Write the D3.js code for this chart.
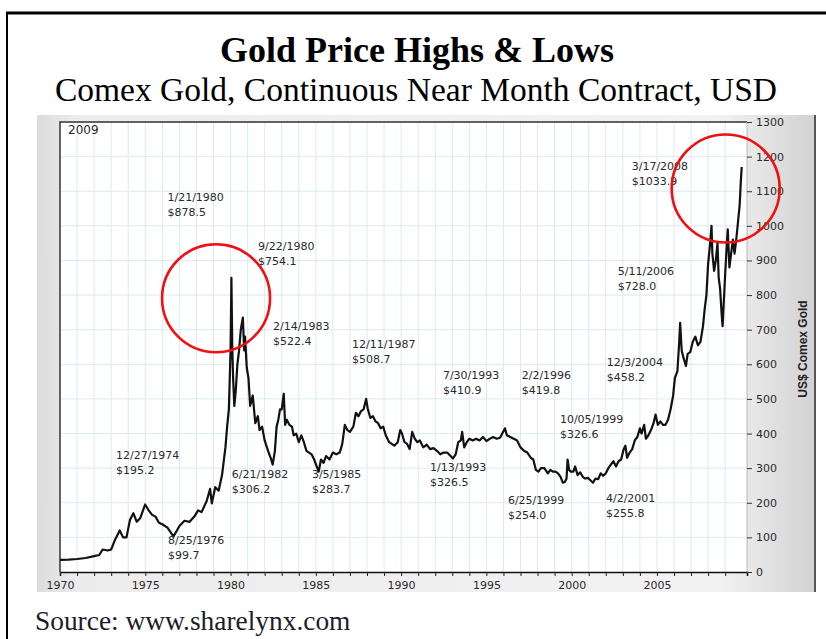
<!DOCTYPE html>
<html>
<head>
<meta charset="utf-8">
<script src="https://cdn.jsdelivr.net/npm/d3@7"></script>
<style>
  html, body { margin: 0; padding: 0; background: #fff; }
  svg { display: block; }
  .px { font-family: "DejaVu Sans", sans-serif; font-size: 11px; fill: #2a2a2a; }
</style>
</head>
<body>
<div id="chart"></div>
<script>
// Comex gold, continuous near month (decimal year, USD)
const years = [
  1970.0, 1970.5, 1971.0, 1971.5, 1972.0, 1972.3, 1972.5, 1972.8, 1973.0, 1973.2,
  1973.5, 1973.7, 1973.9, 1974.1, 1974.3, 1974.5, 1974.7, 1974.99, 1975.2, 1975.4,
  1975.6, 1975.8, 1976.0, 1976.3, 1976.65, 1976.8, 1977.0, 1977.3, 1977.6, 1977.9,
  1978.1, 1978.3, 1978.6, 1978.8, 1978.9, 1979.1, 1979.3, 1979.5, 1979.7, 1979.8,
  1979.9, 1980.0, 1980.05, 1980.1, 1980.15, 1980.22, 1980.3, 1980.4, 1980.5, 1980.6,
  1980.72, 1980.8, 1980.85, 1980.95, 1981.05, 1981.15, 1981.3, 1981.45, 1981.6, 1981.7,
  1981.85, 1982.0, 1982.2, 1982.35, 1982.47, 1982.6, 1982.7, 1982.8, 1982.9, 1983.0,
  1983.12, 1983.2, 1983.3, 1983.45, 1983.6, 1983.7, 1983.85, 1984.0, 1984.15, 1984.3,
  1984.45, 1984.6, 1984.75, 1984.9, 1985.05, 1985.17, 1985.3, 1985.45, 1985.6, 1985.8,
  1986.0, 1986.2, 1986.4, 1986.55, 1986.7, 1986.85, 1987.0, 1987.2, 1987.35, 1987.5,
  1987.65, 1987.8, 1987.95, 1988.05, 1988.2, 1988.35, 1988.5, 1988.65, 1988.8, 1988.95,
  1989.1, 1989.3, 1989.45, 1989.6, 1989.8, 1989.95, 1990.05, 1990.2, 1990.35, 1990.5,
  1990.65, 1990.8, 1990.95, 1991.1, 1991.3, 1991.5, 1991.7, 1991.9, 1992.1, 1992.3,
  1992.5, 1992.7, 1992.9, 1993.04, 1993.2, 1993.35, 1993.5, 1993.58, 1993.7, 1993.85,
  1994.0, 1994.2, 1994.4, 1994.6, 1994.8, 1995.0, 1995.2, 1995.4, 1995.6, 1995.8,
  1996.09, 1996.2, 1996.4, 1996.6, 1996.8, 1997.0, 1997.2, 1997.4, 1997.6, 1997.75,
  1997.9, 1998.05, 1998.2, 1998.4, 1998.6, 1998.75, 1998.9, 1999.05, 1999.2, 1999.35,
  1999.48, 1999.6, 1999.7, 1999.76, 1999.85, 1999.95, 2000.1, 2000.2, 2000.35, 2000.5,
  2000.65, 2000.8, 2000.95, 2001.1, 2001.25, 2001.4, 2001.55, 2001.7, 2001.85, 2002.0,
  2002.15, 2002.3, 2002.45, 2002.6, 2002.75, 2002.9, 2003.05, 2003.15, 2003.25, 2003.4,
  2003.55, 2003.7, 2003.85, 2004.0, 2004.1, 2004.25, 2004.35, 2004.5, 2004.65, 2004.8,
  2004.92, 2005.05, 2005.2, 2005.35, 2005.5, 2005.65, 2005.8, 2005.95, 2006.05, 2006.2,
  2006.3, 2006.36, 2006.45, 2006.55, 2006.7, 2006.8, 2006.95, 2007.1, 2007.25, 2007.4,
  2007.55, 2007.7, 2007.8, 2007.9, 2008.0, 2008.1, 2008.2, 2008.25, 2008.35, 2008.45,
  2008.55, 2008.62, 2008.7, 2008.8, 2008.85, 2008.92, 2009.0, 2009.1, 2009.15, 2009.25,
  2009.35, 2009.45, 2009.55, 2009.65, 2009.75, 2009.85, 2009.92, 2009.97
];
const prices = [
  35, 35.5, 37.5, 40.5, 46, 49, 65, 62, 65, 90,
  120, 100, 100, 150, 170, 145, 155, 195, 178, 165,
  160, 142, 138, 128, 103, 115, 133, 148, 145, 162,
  178, 173, 205, 240, 198, 245, 235, 280, 360, 420,
  470, 640, 850, 650, 560, 480, 520, 600, 640, 700,
  735, 640, 680, 590, 560, 480, 510, 430, 450, 410,
  420, 380, 350, 330, 310, 350, 420, 440, 470, 470,
  515, 425, 440, 425, 420, 395, 400, 375, 395, 375,
  350, 345, 340, 325, 305, 290, 325, 315, 335, 325,
  345, 340, 345, 370, 425, 410, 405, 420, 460, 450,
  465, 470, 500, 470, 445, 450, 435, 430, 415, 420,
  395, 375, 370, 365, 375, 410, 400, 375, 370, 355,
  405, 385, 375, 380, 360, 368, 355, 358, 350, 340,
  345, 345, 335, 328, 340, 375, 380, 405, 360, 375,
  385, 380, 385, 380, 390, 378, 385, 390, 385, 388,
  415, 395, 390, 385, 380, 360, 350, 345, 330, 325,
  295, 290, 300, 300, 285, 295, 290, 290, 285, 275,
  258, 260, 270, 325, 295, 290, 290, 305, 280, 288,
  275, 270, 272, 265, 258, 270, 268, 285, 278, 285,
  300, 310, 320, 305, 320, 325, 355, 365, 330, 345,
  355, 380, 390, 415, 400, 425, 385, 395, 410, 430,
  455, 425, 435, 425, 425, 440, 470, 510, 560, 580,
  660, 720, 640, 620, 595, 630, 635, 665, 680, 655,
  665, 710, 760, 800, 890, 940, 1000, 920, 870, 900,
  950, 850, 820, 740, 710, 780, 860, 950, 990, 880,
  920, 960, 920, 960, 1010, 1060, 1130, 1170
];

// axis ticks
const yearTicks = d3.range(1970, 2010);
const yearLabels = [1970, 1975, 1980, 1985, 1990, 1995, 2000, 2005];
const priceTicks = d3.range(0, 1400, 100);

// highs & lows callouts: text, and where each label sits (year, price units)
const noteDates = ['1/21/1980', '9/22/1980', '2/14/1983', '12/11/1987', '12/27/1974', '6/21/1982',
  '3/5/1985', '8/25/1976', '7/30/1993', '2/2/1996', '1/13/1993', '6/25/1999', '10/05/1999',
  '12/3/2004', '4/2/2001', '5/11/2006', '3/17/2008'];
const notePrices = ['$878.5', '$754.1', '$522.4', '$508.7', '$195.2', '$306.2',
  '$283.7', '$99.7', '$410.9', '$419.8', '$326.5', '$254.0', '$326.6',
  '$458.2', '$255.8', '$728.0', '$1033.9'];
const noteYear = [1976.30, 1981.61, 1982.49, 1987.12, 1973.28, 1980.07,
  1984.77, 1976.33, 1992.45, 1997.07, 1991.69, 1996.26, 1999.31,
  2002.05, 2002.01, 2002.70, 2003.52];
const noteLevel = [1083, 940, 711, 659, 338, 283,
  283, 92, 569, 569, 304, 208, 442,
  605, 214, 868, 1173];

// red circles around the two tops
const ringYear = [1979.15, 2009.03];
const ringLevel = [791, 1108];

function drawChart() {
    const W = 826, H = 639;
    const plot = {left: 60, right: 747, top: 122, bottom: 572};

    const svg = d3.select('#chart')
        .append('svg')
        .attr('width', W)
        .attr('height', H);

    const defs = svg.append('defs');
    const grad = defs.append('linearGradient')
        .attr('id', 'panel')
        .attr('x1', '0').attr('x2', '1').attr('y1', '0').attr('y2', '0');
    grad.append('stop').attr('offset', '0').attr('stop-color', '#dcdcdc');
    grad.append('stop').attr('offset', '0.05').attr('stop-color', '#ececec');
    grad.append('stop').attr('offset', '0.88').attr('stop-color', '#f2f2f2');
    grad.append('stop').attr('offset', '1').attr('stop-color', '#d2d2d2');

    // outer frame
    svg.append('line')
        .attr('x1', 6).attr('x2', W).attr('y1', 13).attr('y2', 13)
        .attr('stroke', '#000').attr('stroke-width', 3);
    svg.append('line')
        .attr('x1', 7).attr('x2', 7).attr('y1', 12).attr('y2', H)
        .attr('stroke', '#000').attr('stroke-width', 2);

    // titles
    svg.append('text')
        .attr('x', 417).attr('y', 62)
        .attr('text-anchor', 'middle')
        .style('font-family', '"Liberation Serif", serif')
        .style('font-weight', 'bold')
        .style('font-size', '36px')
        .text('Gold Price Highs & Lows');

    svg.append('text')
        .attr('x', 416).attr('y', 101)
        .attr('text-anchor', 'middle')
        .style('font-family', '"Liberation Serif", serif')
        .style('font-size', '33.5px')
        .text('Comex Gold, Continuous Near Month Contract, USD');

    svg.append('text')
        .attr('x', 35).attr('y', 630)
        .style('font-family', '"Liberation Serif", serif')
        .style('font-size', '27.4px')
        .style('fill', '#1c1c2c')
        .text('Source: www.sharelynx.com');

    // grey chart panel
    svg.append('rect')
        .attr('x', 37).attr('y', 115)
        .attr('width', 778).attr('height', 477)
        .attr('fill', 'url(#panel)');
    svg.append('line')
        .attr('x1', 815).attr('x2', 815).attr('y1', 115).attr('y2', 592)
        .attr('stroke', '#555').attr('stroke-width', 2);

    const x = d3.scaleLinear()
        .domain([1970, 2010.28])
        .range([plot.left, plot.right]);

    const y = d3.scaleLinear()
        .domain([0, 1300])
        .range([plot.bottom, plot.top]);

    svg.append('rect')
        .attr('x', plot.left).attr('y', plot.top)
        .attr('width', plot.right - plot.left)
        .attr('height', plot.bottom - plot.top)
        .attr('fill', '#fff');

    // light blue grid
    svg.append('g')
        .selectAll('line')
        .data(yearTicks.slice(1))
        .enter().append('line')
        .attr('x1', d => x(d)).attr('x2', d => x(d))
        .attr('y1', plot.top).attr('y2', plot.bottom)
        .attr('stroke', '#dbe9f6').attr('stroke-width', 1);

    svg.append('g')
        .selectAll('line')
        .data(priceTicks.slice(1))
        .enter().append('line')
        .attr('x1', plot.left).attr('x2', plot.right)
        .attr('y1', d => y(d)).attr('y2', d => y(d))
        .attr('stroke', '#dbe9f6').attr('stroke-width', 1);

    // plot border top / left / right
    svg.append('path')
        .attr('d', `M${plot.left},${plot.bottom}V${plot.top}H${plot.right}`)
        .attr('fill', 'none').attr('stroke', '#333').attr('stroke-width', 1.5);
    svg.append('line')
        .attr('x1', plot.right).attr('x2', plot.right)
        .attr('y1', plot.top).attr('y2', plot.bottom)
        .attr('stroke', '#b8b8b8').attr('stroke-width', 1);

    // x axis
    const xAxis = svg.append('g')
        .attr('transform', `translate(0,${plot.bottom})`)
        .call(d3.axisBottom(x)
            .tickValues(yearTicks)
            .tickSize(4)
            .tickPadding(5)
            .tickFormat(d => yearLabels.includes(d) ? d : ''));
    xAxis.select('.domain').attr('stroke', '#111').attr('stroke-width', 1.5);
    xAxis.selectAll('.tick line').attr('stroke', '#222');
    xAxis.selectAll('text')
        .attr('class', 'px')
        .style('font-size', '11px');

    // y axis on the right
    const yAxis = svg.append('g')
        .attr('transform', `translate(${plot.right},0)`)
        .call(d3.axisRight(y)
            .tickValues(priceTicks)
            .tickSize(5)
            .tickPadding(4)
            .tickFormat(d3.format('d')));
    yAxis.select('.domain').remove();
    yAxis.selectAll('.tick line').attr('stroke', '#333');
    yAxis.selectAll('text')
        .attr('class', 'px')
        .style('font-size', '11px');

    svg.append('text')
        .attr('transform', 'translate(807,349) rotate(-90)')
        .attr('text-anchor', 'middle')
        .style('font-family', '"Liberation Sans", sans-serif')
        .style('font-weight', 'bold')
        .style('font-size', '12px')
        .style('fill', '#222')
        .text('US$ Comex Gold');

    svg.append('text')
        .attr('class', 'px')
        .attr('x', 68).attr('y', 134)
        .style('font-size', '12px')
        .text('2009');

    // price line
    const line = d3.line()
        .x((d, i) => x(years[i]))
        .y(d => y(d));

    svg.append('path')
        .datum(prices)
        .attr('fill', 'none')
        .attr('stroke', '#111')
        .attr('stroke-width', 2.2)
        .attr('stroke-linejoin', 'round')
        .attr('d', line);

    // callouts
    const notes = svg.append('g')
        .selectAll('g')
        .data(noteDates)
        .enter().append('g')
        .attr('transform', (d, i) => `translate(${x(noteYear[i])},${y(noteLevel[i])})`);
    notes.append('text')
        .attr('class', 'px')
        .attr('dy', '0.35em')
        .text(d => d);
    notes.append('text')
        .attr('class', 'px')
        .attr('y', 15)
        .attr('dy', '0.35em')
        .text((d, i) => notePrices[i]);

    // red rings
    svg.append('g')
        .selectAll('circle')
        .data(ringYear)
        .enter().append('circle')
        .attr('cx', d => x(d))
        .attr('cy', (d, i) => y(ringLevel[i]))
        .attr('r', 54)
        .attr('fill', 'none')
        .attr('stroke', '#f01010')
        .attr('stroke-width', 2.6);
}

drawChart();
</script>
</body>
</html>
